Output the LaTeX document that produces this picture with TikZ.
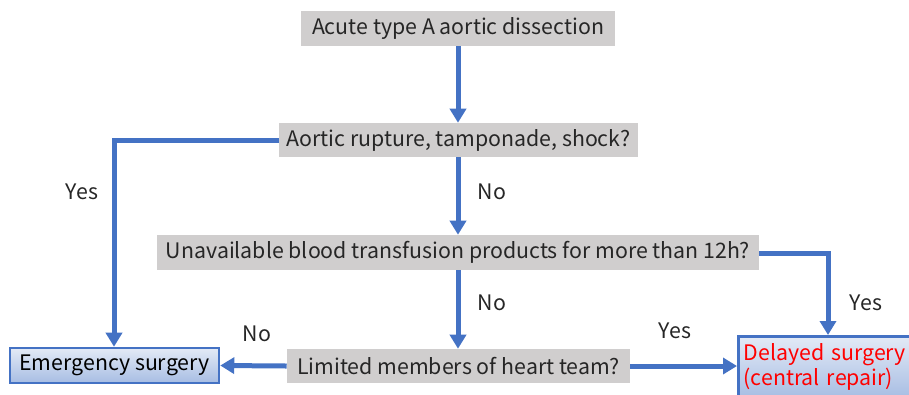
\documentclass[tikz,border=0pt]{standalone}
\usepackage{fontspec}
\setmainfont{Noto Sans CJK JP}
\usetikzlibrary{arrows.meta,positioning}
\definecolor{boxgray}{HTML}{D0CECE}
\definecolor{lineblue}{HTML}{4472C4}
\definecolor{gradtop}{HTML}{E3EAF6}
\definecolor{gradbot}{HTML}{A7BDE3}
\definecolor{txtred}{HTML}{FF0000}
\tikzset{
  px/.style={x=0.75pt,y=-0.75pt},
  qbox/.style={fill=boxgray, draw=none, inner sep=0pt, font=\fontsize{16}{19}\selectfont, text=black!85},
  outbox/.style={draw=lineblue, line width=1.9pt, top color=gradtop, bottom color=gradbot, inner sep=0pt, font=\fontsize{16}{19}\selectfont},
  flow/.style={draw=lineblue, line width=3.75pt, -{Triangle[width=12pt,length=10.5pt]}},
  lbl/.style={font=\fontsize{16}{19}\selectfont, text=black!85, inner sep=0pt}
}
\begin{document}
\begin{tikzpicture}[px]
\useasboundingbox (0,0) rectangle (909,394);
\node[qbox, minimum width=314*0.75pt, minimum height=35*0.75pt] (a) at (458,28.5) {Acute type A aortic dissection};
\node[qbox, minimum width=359*0.75pt, minimum height=34*0.75pt] (b) at (458.5,140) {Aortic rupture, tamponade, shock?};
\node[qbox, minimum width=602*0.75pt, minimum height=35*0.75pt] (c) at (458,252.5) {Unavailable blood transfusion products for more than 12h?};
\node[qbox, minimum width=343*0.75pt, minimum height=34*0.75pt] (d) at (458.5,366) {Limited members of heart team?};
\node[outbox, minimum width=209*0.75pt, minimum height=35*0.75pt] (e) at (114.5,365.5) {Emergency surgery};
\node[outbox, minimum width=176*0.75pt, minimum height=62*0.75pt, text=txtred, align=left, anchor=north west, text width=168*0.75pt] (f) at (737,335) {\hspace*{1pt}Delayed surgery\\\hspace*{1pt}(central repair)};
\coordinate (bl) at (114,140);
\coordinate (cr) at (828,253);
\draw[flow] (a.south -| 458,0) -- (b.north -| 458,0);
\draw[flow] (b.west) -- (bl) -- (e.north -| bl);
\draw[flow] (b.south -| 458,0) -- (c.north -| 458,0);
\draw[flow] (c.east |- cr) -- (cr) -- (f.north -| cr);
\draw[flow] (c.south -| 458,0) -- (d.north -| 458,0);
\draw[flow] (d.west) -- (e.east);
\draw[flow] (d.east) -- (f.west |- d.east);
\node[lbl] (y1) at (82,192) {Yes};
\node[lbl] (n1) at (492,192) {No};
\node[lbl] (y2) at (866,303) {Yes};
\node[lbl] (n2) at (492,303) {No};
\node[lbl] (n3) at (257,334) {No};
\node[lbl] (y3) at (675,331) {Yes};
\end{tikzpicture}
\end{document}
